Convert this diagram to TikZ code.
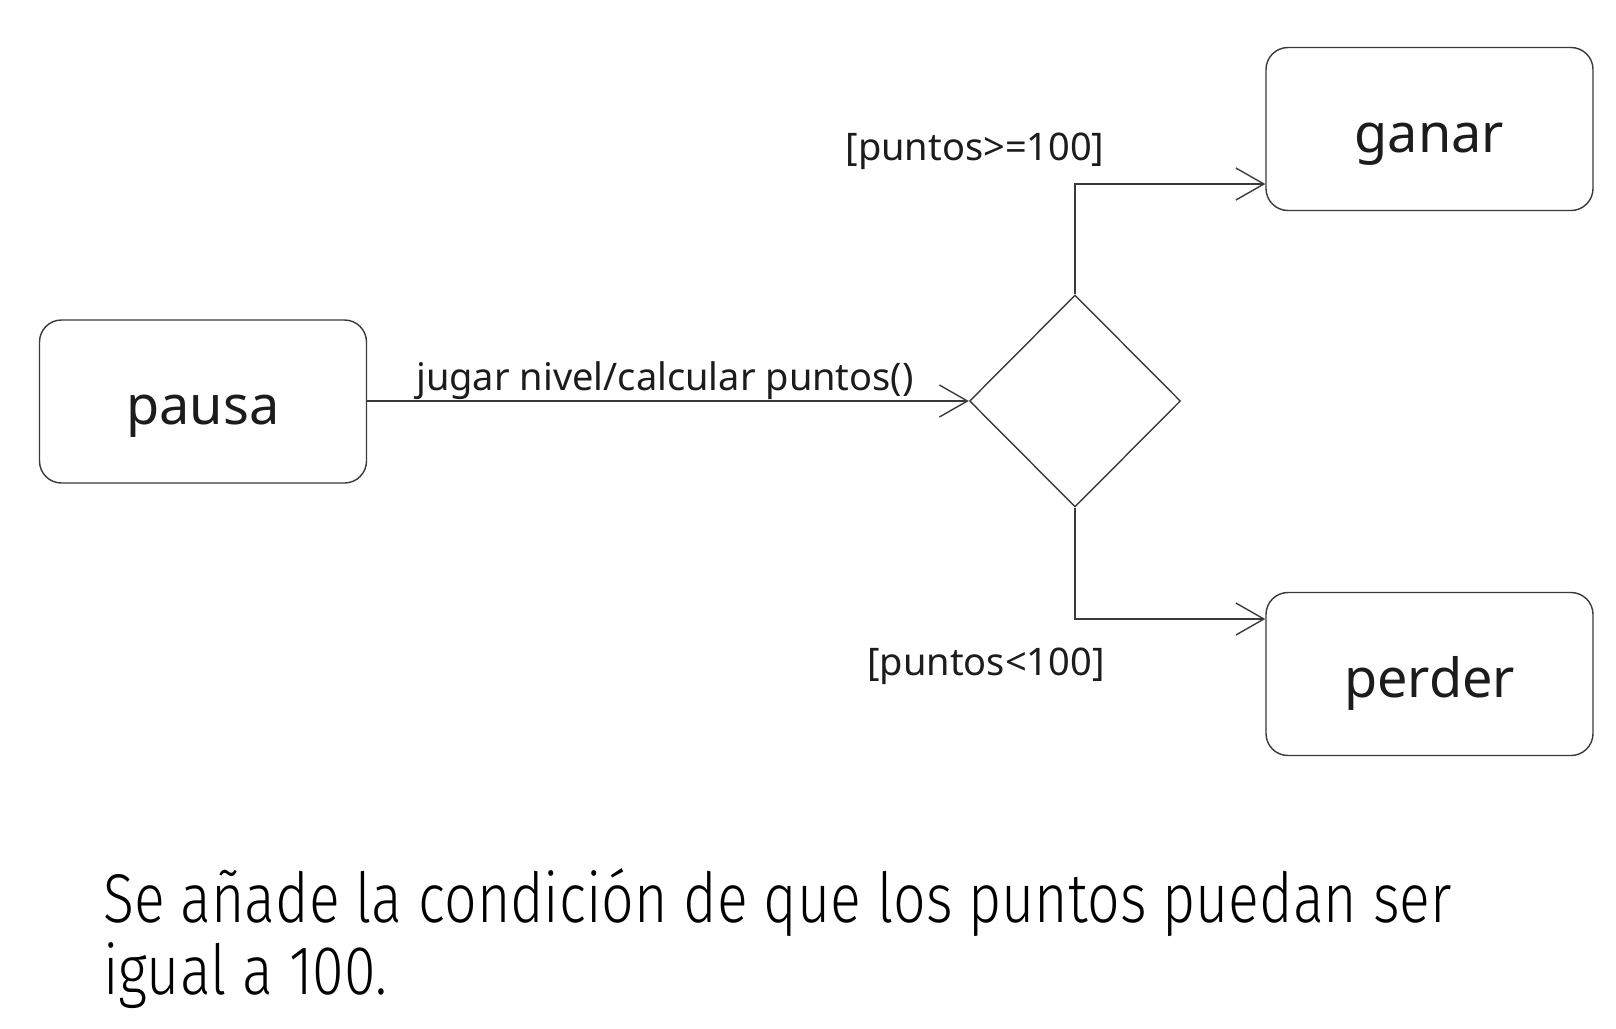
\documentclass[tikz,border=0pt]{standalone}
\usepackage{fontspec}
\usetikzlibrary{arrows.meta,shapes.geometric,calc}
\setmainfont{Noto Sans}
\IfFontExistsTF{Fira Sans Light}
  {\newfontfamily\bodyfont{Fira Sans Light}[FakeStretch=0.83]}
  {\newfontfamily\bodyfont{Fira Sans}[FakeStretch=0.83]}
\definecolor{ln}{HTML}{3A3A3A}
\definecolor{tx}{HTML}{1C1C1C}
\begin{document}
\begin{tikzpicture}[x=1pt,y=-1pt,
  statebox/.style={draw=ln,line width=1.4pt,rounded corners=22pt,minimum width=327pt,minimum height=163pt,inner sep=0pt,text=tx,text height=46pt,text depth=0pt,font=\fontsize{54}{60}\selectfont},
  choice/.style={draw=ln,line width=1.4pt,diamond,minimum width=211pt,minimum height=212pt,inner sep=0pt},
  flow/.style={draw=ln,line width=1.4pt,-{Straight Barb[length=28pt,width=32pt,line width=1.4pt]}},
  lbl/.style={text=tx,inner sep=0pt,font=\fontsize{38}{44}\selectfont},
  body/.style={text=black,inner sep=0pt,anchor=base west,font=\bodyfont\fontsize{69}{72}\selectfont}]
\useasboundingbox[fill=white] (0,0) rectangle (1616,1028);
\node[statebox] (pausa) at (203,401.5) {pausa};
\node[statebox] (ganar) at (1429.5,129) {ganar};
\node[statebox] (perder) at (1429.5,674) {perder};
\node[choice] (d) at (1075,401) {};
\coordinate (gin) at (ganar.west |- 0,184);
\coordinate (pin) at (perder.west |- 0,619);
\draw[flow] (pausa.east |- d.west) -- (d.west);
\draw[flow] (d.north) |- (gin);
\draw[flow] (d.south) |- (pin);
\node[lbl] (l1) at (665,381) {jugar nivel/calcular puntos()};
\node[lbl] (l2) at (975,151) {[puntos>=100]};
\node[lbl] (l3) at (986,666) {[puntos<100]};
\node[body] (t1) at (103,922) {Se añade la condición de que los puntos puedan ser};
\node[body] (t2) at (103,994) {igual a 100.};
\end{tikzpicture}
\end{document}
